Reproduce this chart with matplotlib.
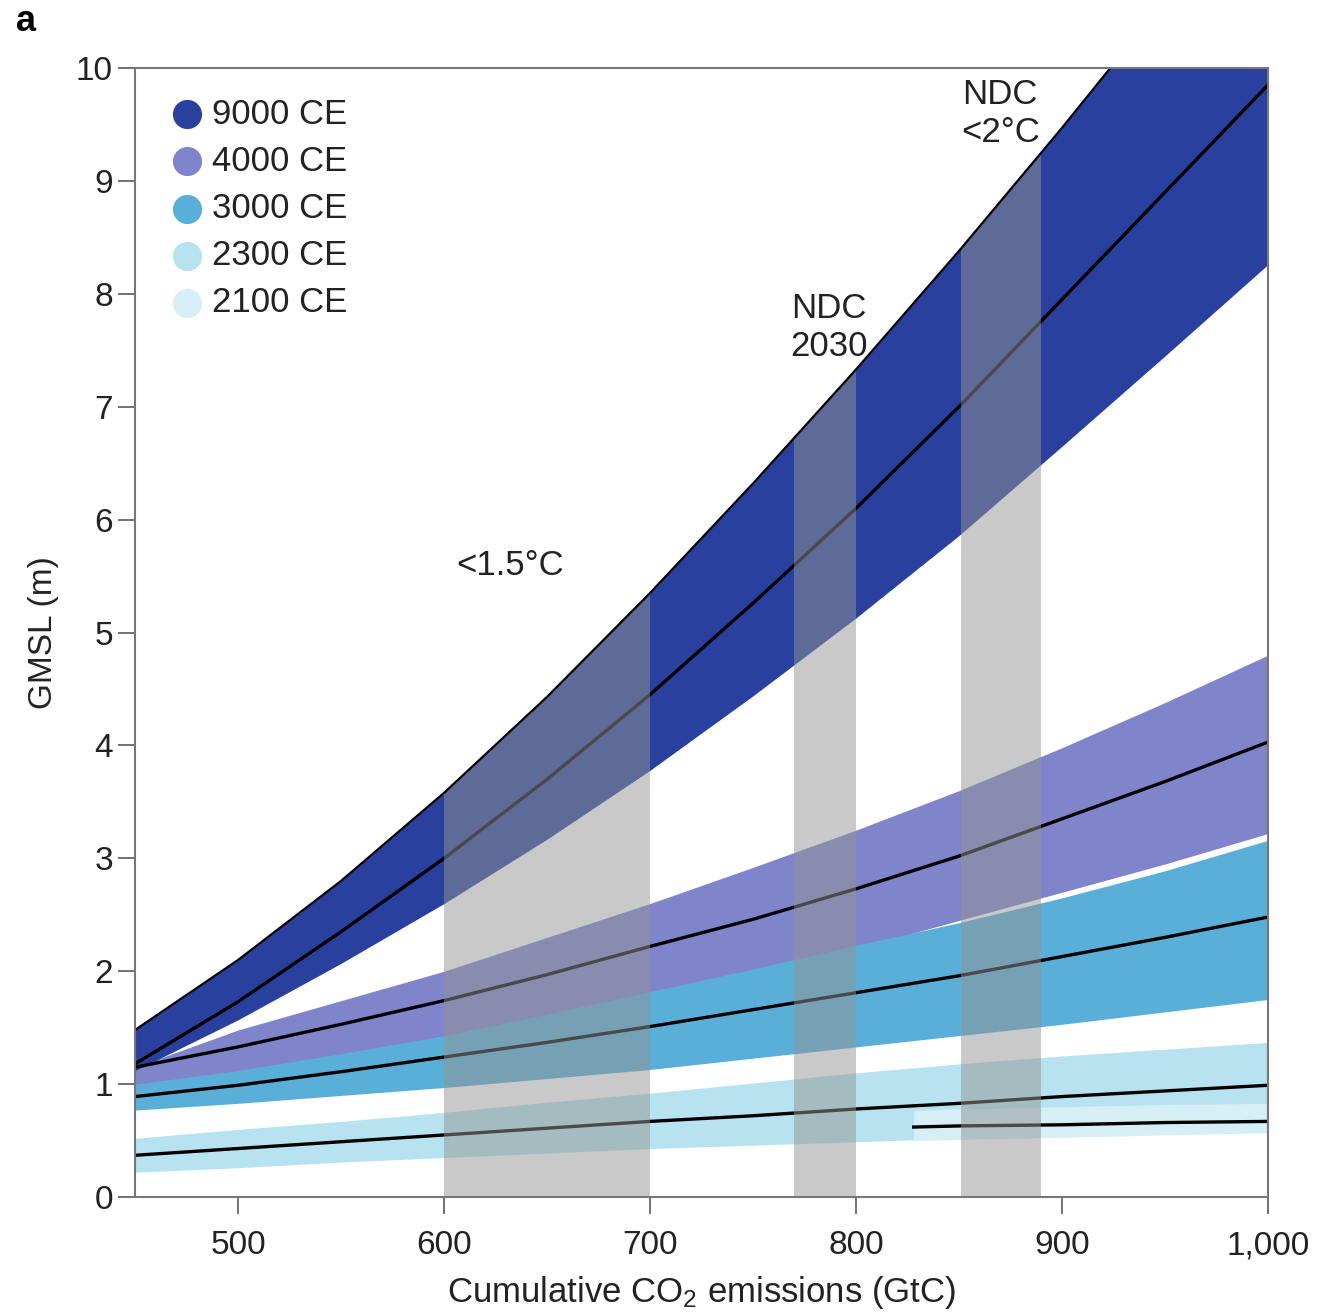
import numpy as np
import matplotlib
matplotlib.use("Agg")
import matplotlib.pyplot as plt
from matplotlib.patches import Polygon

plt.rcParams["font.family"] = ["Liberation Sans", "DejaVu Sans"]
plt.rcParams["mathtext.fontset"] = "custom"
plt.rcParams["mathtext.rm"] = "Liberation Sans"
plt.rcParams["mathtext.it"] = "Liberation Sans:italic"

# cumulative emissions grid (GtC)
emissions = [450, 500, 550, 600, 650, 700, 750, 800, 850, 900, 950, 1000]

# GMSL (m) per target year: upper, median, lower
up_9000 = [1.48, 2.1, 2.8, 3.58, 4.43, 5.35, 6.32, 7.33, 8.38, 9.47, 10.6, 11.77]
med_9000 = [1.18, 1.73, 2.35, 3.0, 3.7, 4.45, 5.26, 6.1, 7.0, 7.95, 8.9, 9.85]
lo_9000 = [1.12, 1.57, 2.07, 2.6, 3.17, 3.78, 4.44, 5.13, 5.86, 6.65, 7.45, 8.26]

up_4000 = [1.15, 1.48, 1.74, 2.0, 2.3, 2.6, 2.92, 3.25, 3.6, 3.98, 4.38, 4.8]
med_4000 = [1.15, 1.33, 1.53, 1.74, 1.97, 2.22, 2.46, 2.73, 3.02, 3.35, 3.68, 4.03]
lo_4000 = [0.98, 1.1, 1.25, 1.4, 1.57, 1.75, 1.97, 2.2, 2.45, 2.7, 2.95, 3.22]

up_3000 = [1.0, 1.12, 1.27, 1.43, 1.62, 1.82, 2.02, 2.23, 2.43, 2.65, 2.89, 3.16]
med_3000 = [0.89, 0.99, 1.11, 1.24, 1.37, 1.51, 1.66, 1.81, 1.96, 2.13, 2.3, 2.48]
lo_3000 = [0.77, 0.83, 0.9, 0.97, 1.05, 1.13, 1.23, 1.33, 1.43, 1.53, 1.64, 1.75]

up_2300 = [0.52, 0.6, 0.67, 0.75, 0.84, 0.92, 1.01, 1.1, 1.18, 1.25, 1.31, 1.37]
med_2300 = [0.37, 0.43, 0.49, 0.55, 0.61, 0.67, 0.72, 0.78, 0.83, 0.89, 0.94, 0.99]
lo_2300 = [0.22, 0.26, 0.31, 0.35, 0.39, 0.43, 0.46, 0.49, 0.52, 0.56, 0.59, 0.62]

emissions_2100 = [828, 850, 900, 950, 1000]
up_2100 = [0.77, 0.78, 0.8, 0.82, 0.83]
med_2100 = [0.62, 0.63, 0.64, 0.66, 0.67]
lo_2100 = [0.5, 0.51, 0.53, 0.55, 0.57]

years = ["9000 CE", "4000 CE", "3000 CE", "2300 CE", "2100 CE"]
year_colors = ["#2a409f", "#8084cb", "#5aafd9", "#b7e3f0", "#d6eef6"]

# emission ranges of the policy targets (GtC)
targets = [(600, 700), (770, 800), (851, 890)]
target_labels = ["<1.5°C", "NDC\n2030", "NDC\n<2°C"]
target_label_pos = [(632, 5.59), (787, 7.7), (870, 9.6)]

fig, ax = plt.subplots(figsize=(13.19, 13.14), dpi=100)
fig.subplots_adjust(left=0.1024, right=0.9613, bottom=0.089, top=0.9482)

# bands, drawn so that overlaps stack as in the figure
ax.fill_between(emissions, lo_4000, up_4000, color=year_colors[1], lw=0, zorder=1)
ax.fill_between(emissions, lo_9000, up_9000, color=year_colors[0], lw=0, zorder=1)
ax.fill_between(emissions, lo_3000, up_3000, color=year_colors[2], lw=0, zorder=1)
ax.fill_between(emissions, lo_2300, up_2300, color=year_colors[3], lw=0, zorder=1)
ax.fill_between(emissions_2100, lo_2100, up_2100, color=year_colors[4], lw=0, zorder=1)

for med in [med_9000, med_4000, med_3000, med_2300]:
    ax.plot(emissions, med, color="black", lw=2.4, zorder=2)
ax.plot(emissions_2100, med_2100, color="black", lw=2.4, zorder=2)

# grey target bars, cut off at the upper 9000 CE edge
clip = Polygon(
    list(zip(emissions, up_9000)) + [(emissions[-1], 0), (emissions[0], 0)],
    closed=True, transform=ax.transData,
)
for x0, x1 in targets:
    span = ax.axvspan(x0, x1, color="#929492", alpha=0.5, lw=0, zorder=3)
    span.set_clip_path(clip)

ax.plot(emissions, up_9000, color="black", lw=1.6, zorder=4)

for text, (tx, ty) in zip(target_labels, target_label_pos):
    ax.text(tx, ty, text, ha="center", va="center", fontsize=25,
            color="#222222", linespacing=1.2, zorder=5)

# legend as coloured dots
for i, (year, c) in enumerate(zip(years, year_colors)):
    yy = 0.959 - i * 0.0417
    ax.plot(0.046, yy, "o", ms=21, color=c, mec="none", transform=ax.transAxes,
            clip_on=False, zorder=6)
    ax.text(0.068, yy, year, transform=ax.transAxes, va="center", ha="left",
            fontsize=25, color="#222222", zorder=6)

ax.set_xlim(450, 1000)
ax.set_ylim(0, 10)
ax.set_xticks([500, 600, 700, 800, 900, 1000])
ax.set_xticklabels(["500", "600", "700", "800", "900", "1,000"])
ax.set_yticks(range(0, 11))
ax.tick_params(axis="both", direction="out", length=12, width=1.3, color="#666666",
               labelsize=24, labelcolor="#222222")
ax.tick_params(axis="x", pad=12)
ax.tick_params(axis="y", pad=4)
for spine in ax.spines.values():
    spine.set_color("#777777")
    spine.set_linewidth(1.5)
    spine.set_zorder(7)

ax.set_xlabel("Cumulative CO$_2$ emissions (GtC)", fontsize=25, color="#222222", labelpad=9)
ax.set_ylabel("GMSL (m)", fontsize=24, color="#222222", labelpad=12)

fig.text(0.012, 0.984, "a", fontsize=26, fontweight="bold", ha="left", va="center")

fig.savefig("out.png", dpi=100)
